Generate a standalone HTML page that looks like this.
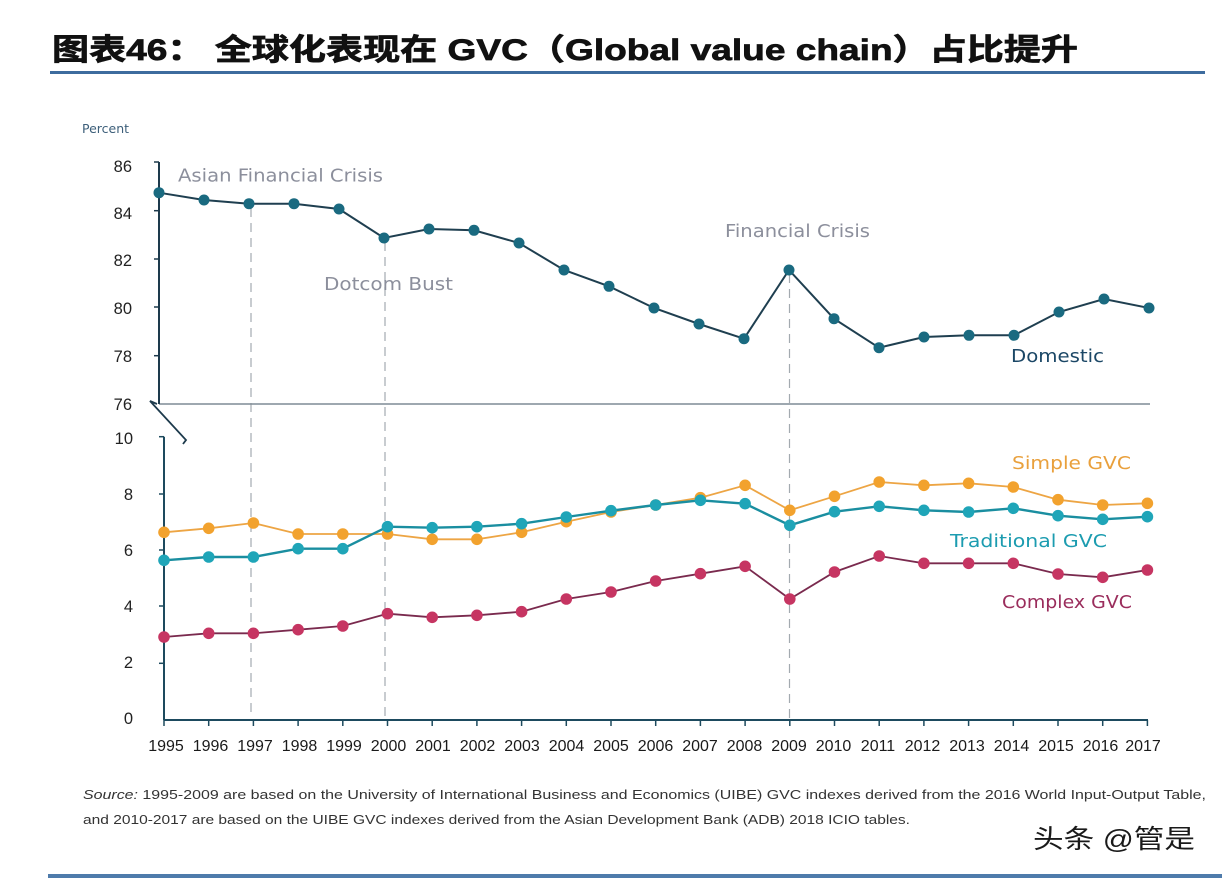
<!DOCTYPE html>
<html><head><meta charset="utf-8">
<style>
html,body{margin:0;padding:0;background:#fff;}
svg{display:block;}
</style></head>
<body>
<svg width="1222" height="878" viewBox="0 0 1222 878" xmlns="http://www.w3.org/2000/svg">
<rect width="1222" height="878" fill="#fff"/>
<!-- Title -->
<text x="52" y="60" font-family="'Liberation Sans','Noto Sans CJK SC',sans-serif" font-weight="bold" font-size="30" fill="#111" stroke="#111" stroke-width="0.7" textLength="1026" lengthAdjust="spacingAndGlyphs">图表46： 全球化表现在 GVC（Global value chain）占比提升</text>
<rect x="50" y="71" width="1155" height="3" fill="#3d6c9e"/>

<!-- Percent -->
<text x="82" y="133" font-family="'DejaVu Sans','Liberation Sans',sans-serif" font-size="12.5" fill="#3d5f7a">Percent</text>

<g font-family="'Liberation Sans',sans-serif" font-size="16.5" fill="#222" text-anchor="end">
<text x="132" y="172">86</text>
<text x="132" y="219">84</text>
<text x="132" y="266">82</text>
<text x="132" y="314">80</text>
<text x="132" y="362">78</text>
<text x="132" y="410">76</text>
<text x="133" y="444">10</text>
<text x="133" y="500">8</text>
<text x="133" y="556">6</text>
<text x="133" y="612">4</text>
<text x="133" y="668">2</text>
<text x="133" y="724">0</text>
</g>

<!-- dashed lines -->
<g stroke="#a3aab0" stroke-width="1.2" stroke-dasharray="9,6" fill="none">
<line x1="251" y1="208" x2="251" y2="718"/>
<line x1="385" y1="242" x2="385" y2="718"/>
<line x1="789.5" y1="274" x2="789.5" y2="718"/>
</g>

<!-- upper axes -->
<line x1="159" y1="404" x2="1150" y2="404" stroke="#7f8c95" stroke-width="1.5"/>
<line x1="159" y1="162" x2="159" y2="404" stroke="#1d3a4c" stroke-width="2"/>
<g stroke="#1d3a4c" stroke-width="1.5">
<line x1="154" y1="162" x2="159" y2="162"/>
<line x1="154" y1="210.7" x2="159" y2="210.7"/>
<line x1="154" y1="259" x2="159" y2="259"/>
<line x1="154" y1="307" x2="159" y2="307"/>
<line x1="154" y1="355.7" x2="159" y2="355.7"/>
</g>
<!-- break mark -->
<path d="M157,404 L150,401 L186,440 L183,444" fill="none" stroke="#1d3a4c" stroke-width="1.8"/>

<!-- lower axes -->
<line x1="164" y1="436.7" x2="164" y2="720" stroke="#1d4a5e" stroke-width="2"/>
<line x1="164" y1="720" x2="1148" y2="720" stroke="#1d4a5e" stroke-width="2"/>
<g stroke="#1d4a5e" stroke-width="1.5">
<line x1="159" y1="436.7" x2="164" y2="436.7"/>
<line x1="159" y1="494" x2="164" y2="494"/>
<line x1="159" y1="550" x2="164" y2="550"/>
<line x1="159" y1="606" x2="164" y2="606"/>
<line x1="159" y1="663.3" x2="164" y2="663.3"/>
<line x1="164" y1="720" x2="164" y2="726"/><line x1="208.7" y1="720" x2="208.7" y2="726"/><line x1="253.4" y1="720" x2="253.4" y2="726"/><line x1="298.1" y1="720" x2="298.1" y2="726"/><line x1="342.8" y1="720" x2="342.8" y2="726"/><line x1="387.5" y1="720" x2="387.5" y2="726"/><line x1="432.2" y1="720" x2="432.2" y2="726"/><line x1="476.9" y1="720" x2="476.9" y2="726"/><line x1="521.6" y1="720" x2="521.6" y2="726"/><line x1="566.3" y1="720" x2="566.3" y2="726"/><line x1="611" y1="720" x2="611" y2="726"/><line x1="655.7" y1="720" x2="655.7" y2="726"/><line x1="700.4" y1="720" x2="700.4" y2="726"/><line x1="745.1" y1="720" x2="745.1" y2="726"/><line x1="789.8" y1="720" x2="789.8" y2="726"/><line x1="834.5" y1="720" x2="834.5" y2="726"/><line x1="879.2" y1="720" x2="879.2" y2="726"/><line x1="923.9" y1="720" x2="923.9" y2="726"/><line x1="968.6" y1="720" x2="968.6" y2="726"/><line x1="1013.3" y1="720" x2="1013.3" y2="726"/><line x1="1058" y1="720" x2="1058" y2="726"/><line x1="1102.7" y1="720" x2="1102.7" y2="726"/><line x1="1147.4" y1="720" x2="1147.4" y2="726"/>
</g>

<!-- year labels -->
<g font-family="'Liberation Sans',sans-serif" font-size="16" fill="#1a1a1a" text-anchor="middle">
<text x="166" y="751">1995</text><text x="210.5" y="751">1996</text><text x="255" y="751">1997</text><text x="299.5" y="751">1998</text><text x="344" y="751">1999</text><text x="388.5" y="751">2000</text><text x="433" y="751">2001</text><text x="477.5" y="751">2002</text><text x="522" y="751">2003</text><text x="566.5" y="751">2004</text><text x="611" y="751">2005</text><text x="655.5" y="751">2006</text><text x="700" y="751">2007</text><text x="744.5" y="751">2008</text><text x="789" y="751">2009</text><text x="833.5" y="751">2010</text><text x="878" y="751">2011</text><text x="922.5" y="751">2012</text><text x="967" y="751">2013</text><text x="1011.5" y="751">2014</text><text x="1056" y="751">2015</text><text x="1100.5" y="751">2016</text><text x="1143" y="751">2017</text>
</g>

<!-- Domestic -->
<polyline fill="none" stroke="#1f3f50" stroke-width="2" points="159,192.7 204,200 249,203.7 294,203.7 339,209 384,238 429,229 474,230.3 519,243 564,270 609,286.3 654,308 699,324 744,338.7 789,270 834,318.7 879,347.7 924,337 969,335.3 1014,335.3 1059,312 1104,299 1149,308"/>
<g fill="#1a6a80">
<circle cx="159" cy="192.7" r="5.5"/><circle cx="204" cy="200" r="5.5"/><circle cx="249" cy="203.7" r="5.5"/><circle cx="294" cy="203.7" r="5.5"/><circle cx="339" cy="209" r="5.5"/><circle cx="384" cy="238" r="5.5"/><circle cx="429" cy="229" r="5.5"/><circle cx="474" cy="230.3" r="5.5"/><circle cx="519" cy="243" r="5.5"/><circle cx="564" cy="270" r="5.5"/><circle cx="609" cy="286.3" r="5.5"/><circle cx="654" cy="308" r="5.5"/><circle cx="699" cy="324" r="5.5"/><circle cx="744" cy="338.7" r="5.5"/><circle cx="789" cy="270" r="5.5"/><circle cx="834" cy="318.7" r="5.5"/><circle cx="879" cy="347.7" r="5.5"/><circle cx="924" cy="337" r="5.5"/><circle cx="969" cy="335.3" r="5.5"/><circle cx="1014" cy="335.3" r="5.5"/><circle cx="1059" cy="312" r="5.5"/><circle cx="1104" cy="299" r="5.5"/><circle cx="1149" cy="308" r="5.5"/>
</g>

<!-- Complex -->
<polyline fill="none" stroke="#7a2a4e" stroke-width="1.8" points="164,637 208.7,633.3 253.4,633.3 298.1,629.7 342.8,626 387.5,613.7 432.2,617.3 476.9,615.3 521.6,611.7 566.3,599 611,592 655.7,581 700.4,573.7 745.1,566.3 789.8,599 834.5,572 879.2,556 923.9,563.3 968.6,563.3 1013.3,563.3 1058,574 1102.7,577.3 1147.4,570"/>
<g fill="#c63562">
<circle cx="164" cy="637" r="5.8"/><circle cx="208.7" cy="633.3" r="5.8"/><circle cx="253.4" cy="633.3" r="5.8"/><circle cx="298.1" cy="629.7" r="5.8"/><circle cx="342.8" cy="626" r="5.8"/><circle cx="387.5" cy="613.7" r="5.8"/><circle cx="432.2" cy="617.3" r="5.8"/><circle cx="476.9" cy="615.3" r="5.8"/><circle cx="521.6" cy="611.7" r="5.8"/><circle cx="566.3" cy="599" r="5.8"/><circle cx="611" cy="592" r="5.8"/><circle cx="655.7" cy="581" r="5.8"/><circle cx="700.4" cy="573.7" r="5.8"/><circle cx="745.1" cy="566.3" r="5.8"/><circle cx="789.8" cy="599" r="5.8"/><circle cx="834.5" cy="572" r="5.8"/><circle cx="879.2" cy="556" r="5.8"/><circle cx="923.9" cy="563.3" r="5.8"/><circle cx="968.6" cy="563.3" r="5.8"/><circle cx="1013.3" cy="563.3" r="5.8"/><circle cx="1058" cy="574" r="5.8"/><circle cx="1102.7" cy="577.3" r="5.8"/><circle cx="1147.4" cy="570" r="5.8"/>
</g>

<!-- Simple -->
<polyline fill="none" stroke="#eda544" stroke-width="1.8" points="164,532.3 208.7,528.3 253.4,523 298.1,534 342.8,534 387.5,534 432.2,539.3 476.9,539.3 521.6,532.3 566.3,521.7 611,512 655.7,505 700.4,497.7 745.1,485.3 789.8,510.3 834.5,496.3 879.2,482 923.9,485.3 968.6,483.3 1013.3,487 1058,499.7 1102.7,505 1147.4,503.3"/>
<g fill="#f2a22e">
<circle cx="164" cy="532.3" r="5.8"/><circle cx="208.7" cy="528.3" r="5.8"/><circle cx="253.4" cy="523" r="5.8"/><circle cx="298.1" cy="534" r="5.8"/><circle cx="342.8" cy="534" r="5.8"/><circle cx="387.5" cy="534" r="5.8"/><circle cx="432.2" cy="539.3" r="5.8"/><circle cx="476.9" cy="539.3" r="5.8"/><circle cx="521.6" cy="532.3" r="5.8"/><circle cx="566.3" cy="521.7" r="5.8"/><circle cx="611" cy="512" r="5.8"/><circle cx="655.7" cy="505" r="5.8"/><circle cx="700.4" cy="497.7" r="5.8"/><circle cx="745.1" cy="485.3" r="5.8"/><circle cx="789.8" cy="510.3" r="5.8"/><circle cx="834.5" cy="496.3" r="5.8"/><circle cx="879.2" cy="482" r="5.8"/><circle cx="923.9" cy="485.3" r="5.8"/><circle cx="968.6" cy="483.3" r="5.8"/><circle cx="1013.3" cy="487" r="5.8"/><circle cx="1058" cy="499.7" r="5.8"/><circle cx="1102.7" cy="505" r="5.8"/><circle cx="1147.4" cy="503.3" r="5.8"/>
</g>

<!-- Traditional -->
<polyline fill="none" stroke="#1a8ea0" stroke-width="2.4" points="164,560.3 208.7,557 253.4,557 298.1,548.7 342.8,548.7 387.5,526.7 432.2,527.7 476.9,526.7 521.6,523.7 566.3,517 611,510.7 655.7,505 700.4,500.3 745.1,503.7 789.8,525.3 834.5,511.7 879.2,506.3 923.9,510.3 968.6,512 1013.3,508.3 1058,515.7 1102.7,519.3 1147.4,516.7"/>
<g fill="#1fa5b8">
<circle cx="164" cy="560.3" r="5.8"/><circle cx="208.7" cy="557" r="5.8"/><circle cx="253.4" cy="557" r="5.8"/><circle cx="298.1" cy="548.7" r="5.8"/><circle cx="342.8" cy="548.7" r="5.8"/><circle cx="387.5" cy="526.7" r="5.8"/><circle cx="432.2" cy="527.7" r="5.8"/><circle cx="476.9" cy="526.7" r="5.8"/><circle cx="521.6" cy="523.7" r="5.8"/><circle cx="566.3" cy="517" r="5.8"/><circle cx="611" cy="510.7" r="5.8"/><circle cx="655.7" cy="505" r="5.8"/><circle cx="700.4" cy="500.3" r="5.8"/><circle cx="745.1" cy="503.7" r="5.8"/><circle cx="789.8" cy="525.3" r="5.8"/><circle cx="834.5" cy="511.7" r="5.8"/><circle cx="879.2" cy="506.3" r="5.8"/><circle cx="923.9" cy="510.3" r="5.8"/><circle cx="968.6" cy="512" r="5.8"/><circle cx="1013.3" cy="508.3" r="5.8"/><circle cx="1058" cy="515.7" r="5.8"/><circle cx="1102.7" cy="519.3" r="5.8"/><circle cx="1147.4" cy="516.7" r="5.8"/>
</g>

<!-- annotations -->
<g font-family="'DejaVu Sans','Liberation Sans',sans-serif" font-size="17.5">
<text x="178" y="181.5" fill="#8c8f9c" textLength="205" lengthAdjust="spacingAndGlyphs">Asian Financial Crisis</text>
<text x="324" y="290" fill="#8c8f9c" textLength="129" lengthAdjust="spacingAndGlyphs">Dotcom Bust</text>
<text x="725" y="237" fill="#8c8f9c" textLength="145" lengthAdjust="spacingAndGlyphs">Financial Crisis</text>
<text x="1011" y="362" fill="#1b4766" textLength="93" lengthAdjust="spacingAndGlyphs">Domestic</text>
<text x="1012" y="469" fill="#e9a03c" textLength="119" lengthAdjust="spacingAndGlyphs">Simple GVC</text>
<text x="950" y="547" fill="#1c9cb0" textLength="157" lengthAdjust="spacingAndGlyphs">Traditional GVC</text>
<text x="1002" y="608" fill="#9a2d5c" textLength="130" lengthAdjust="spacingAndGlyphs">Complex GVC</text>
</g>

<!-- source -->
<g font-family="'Liberation Sans',sans-serif" font-size="12.5" fill="#333">
<text x="83" y="799" textLength="1123" lengthAdjust="spacingAndGlyphs"><tspan font-style="italic">Source:</tspan> 1995-2009 are based on the University of International Business and Economics (UIBE) GVC indexes derived from the 2016 World Input-Output Table,</text>
<text x="83" y="824" textLength="827" lengthAdjust="spacingAndGlyphs">and 2010-2017 are based on the UIBE GVC indexes derived from the Asian Development Bank (ADB) 2018 ICIO tables.</text>
</g>

<!-- watermark -->
<text x="1033" y="848" font-family="'Liberation Sans','Noto Sans CJK SC',sans-serif" font-size="26" fill="#1a1a1a" textLength="162" lengthAdjust="spacingAndGlyphs">头条 @管是</text>

<rect x="48" y="874" width="1174" height="4" fill="#4e7bab"/>
</svg>
</body></html>
